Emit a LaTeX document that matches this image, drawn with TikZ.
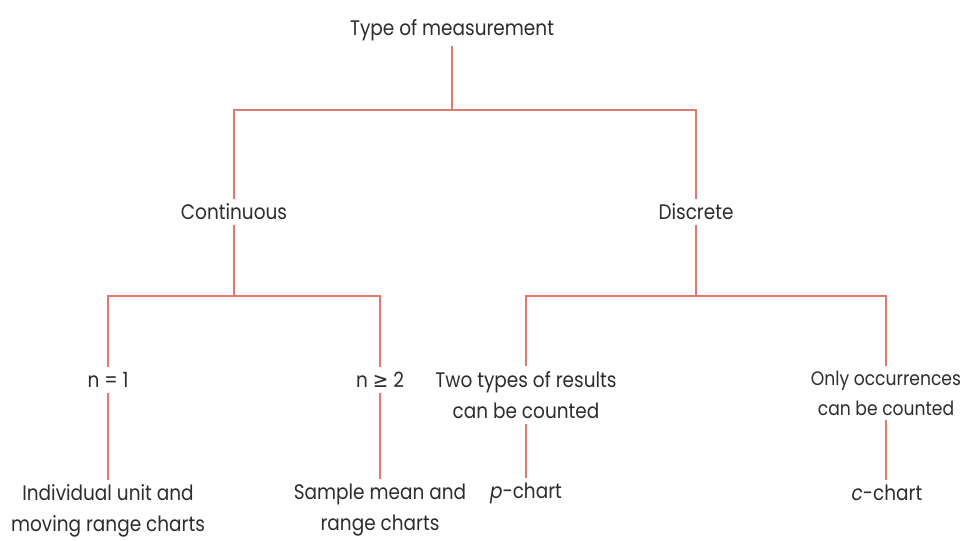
\documentclass[tikz,border=0pt]{standalone}
\usepackage{fontspec}
\setmainfont{Poppins}[FakeStretch=0.88]
\newfontfamily\symfont{DejaVu Sans}[FakeStretch=0.88]
\definecolor{linec}{RGB}{224,122,110}
\definecolor{txtc}{RGB}{45,45,45}
\begin{document}
\begin{tikzpicture}[x=1pt,y=-1pt,
  lbl/.style={text=txtc,font=\fontsize{21}{31}\selectfont,inner xsep=2pt,inner ysep=5pt,outer sep=0pt,align=center},
  conn/.style={draw=linec,line width=1.8pt}]
\fill[white] (0,0) rectangle (965,540);
\useasboundingbox (0,0) rectangle (965,540);
\node[lbl] (top) at (452,30) {Type of measurement};
\node[lbl] (cont) at (234,212) {Continuous};
\node[lbl] (disc) at (696,212) {Discrete};
\node[lbl] (n1) at (108,380) {n = 1};
\node[lbl] (n2) at (380,380) {n {\symfont ≥} 2};
\node[lbl] (two) at (526,395) {Two types of results\\can be counted};
\node[lbl,font=\fontsize{19.5}{30}\selectfont] (only) at (886,393) {Only occurrences\\can be counted};
\node[lbl] (ind) at (108,511) {Individual unit and\\moving range charts};
\node[lbl] (samp) at (380,510) {Sample mean and\\range charts};
\node[lbl] (pc) at (526,493) {\textit{p}-chart};
\node[lbl] (cc) at (887,493) {\textit{c}-chart};
\coordinate (h1) at (452,110);
\coordinate (h2) at (234,296);
\coordinate (h3) at (696,296);
\draw[conn] (top.south) -- (h1);
\draw[conn] (cont.north) |- (h1) -| (disc.north);
\draw[conn] (cont.south) -- (h2);
\draw[conn] (disc.south) -- (h3);
\draw[conn] (n1.north) |- (h2) -| (n2.north);
\draw[conn] (two.north) |- (h3) -| (only.north);
\draw[conn] (n1.south) -- (n1.south |- ind.north);
\draw[conn] (n2.south) -- (n2.south |- samp.north);
\draw[conn] (two.south) -- (two.south |- pc.north);
\draw[conn] (only.south) -- (only.south |- cc.north);
\end{tikzpicture}
\end{document}
